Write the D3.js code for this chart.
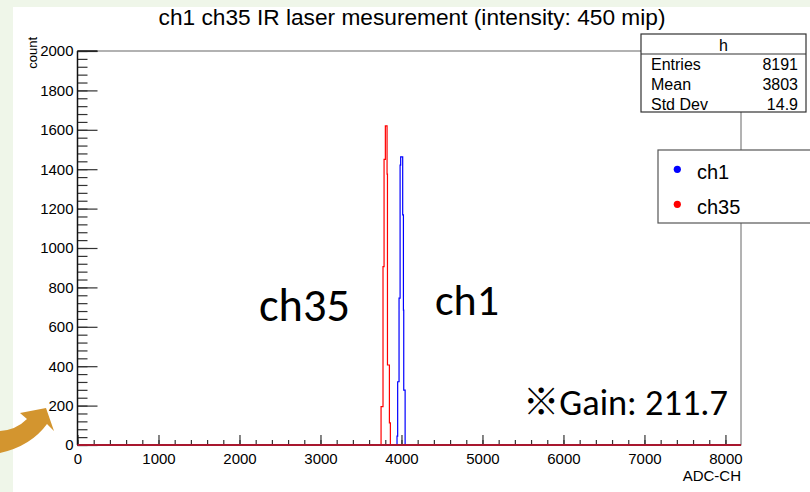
<!DOCTYPE html>
<html><head><meta charset="utf-8">
<script src="https://cdn.jsdelivr.net/npm/d3@7"></script>
<style>html,body{margin:0;padding:0;background:#fff;}svg{display:block;}</style>
</head><body>
<svg id="c" width="810" height="492"></svg>
<script>
// ---- data ----
const xDomain = [0, 8192];
const yDomain = [0, 2000];
const xTicks = [0,1000,2000,3000,4000,5000,6000,7000,8000];
const yTicks = [0,200,400,600,800,1000,1200,1400,1600,1800,2000];
// ch35 (red) histogram: bin edges and counts
const redEdges  = [3748, 3772, 3785, 3801, 3822, 3827, 3851, 3863];
const redCounts = [195, 905, 1450, 1620, 1375, 406, 112];
// ch1 (blue) histogram
const blueEdges  = [3945, 3953, 3970, 3983, 3990, 4015, 4024, 4028, 4045];
const blueCounts = [45, 321, 746, 1421, 1463, 1168, 685, 279];
const statsLabels = ["Entries","Mean","Std Dev"];
const statsValues = ["8191","3803","14.9"];
const legendNames = ["ch1","ch35"];
const legendColors = ["#0000ff","#ff0000"];

const svg = d3.select("#c");
// slide background
svg.append("rect").attr("width",810).attr("height",492).attr("fill","#eff6e9");
svg.append("rect").attr("x",13).attr("y",7).attr("width",797).attr("height",485).attr("fill","#fff");

const x = d3.scaleLinear().domain(xDomain).range([77.5, 741]);
const y = d3.scaleLinear().domain(yDomain).range([445, 51]);

// frame
svg.append("rect").attr("x",x(0)).attr("y",y(2000)).attr("width",x(8192)-x(0)).attr("height",y(0)-y(2000))
  .attr("fill","none").attr("stroke","#666").attr("stroke-width",1);

// histograms
function stepPath(edges, counts){
  const pts = [[x(xDomain[0]), y(0)], [x(edges[0]), y(0)]];
  counts.forEach((c,i)=>{ pts.push([x(edges[i]), y(c)]); pts.push([x(edges[i+1]), y(c)]); });
  pts.push([x(edges[edges.length-1]), y(0)]);
  pts.push([x(xDomain[1]), y(0)]);
  return d3.line()(pts);
}
svg.append("path").attr("d", stepPath(blueEdges, blueCounts)).attr("fill","none")
  .attr("stroke","#0000ff").attr("stroke-width",1.2);
svg.append("path").attr("d", stepPath(redEdges, redCounts)).attr("fill","none")
  .attr("stroke","#ff0000").attr("stroke-width",1.2);

// axes
const axFont = "Liberation Sans, Arial, sans-serif";
const yMinor = svg.append("g").attr("transform",`translate(${x(0)},0)`)
  .call(d3.axisLeft(y).tickValues(d3.range(0,2001,40)).tickSize(-10).tickFormat(""));
const yMajor = svg.append("g").attr("transform",`translate(${x(0)},0)`)
  .call(d3.axisLeft(y).tickValues(yTicks).tickSize(-20).tickPadding(4).tickFormat(d3.format("d")));
const xMinor = svg.append("g").attr("transform",`translate(0,${y(0)})`)
  .call(d3.axisBottom(x).tickValues(d3.range(0,8193,200)).tickSize(-5).tickFormat(""));
const xMajor = svg.append("g").attr("transform",`translate(0,${y(0)})`)
  .call(d3.axisBottom(x).tickValues(xTicks).tickSize(-10).tickPadding(8).tickFormat(d3.format("d")));
[yMinor,yMajor,xMinor,xMajor].forEach(g=>{
  g.select(".domain").remove();
  g.selectAll(".tick line").attr("stroke","#333").attr("stroke-width",1.2);
  g.selectAll("text").attr("font-family",axFont).attr("font-size",15).attr("fill","#000");
});
// axis lines
svg.append("line").attr("x1",x(0)).attr("x2",x(0)).attr("y1",y(2000)).attr("y2",y(0))
  .attr("stroke","#111").attr("stroke-width",1.5);
svg.append("line").attr("x1",x(0)).attr("x2",x(0)+20).attr("y1",y(2000)).attr("y2",y(2000))
  .attr("stroke","#222").attr("stroke-width",1.5);
// baseline (histograms at zero)
svg.append("line").attr("x1",x(0)).attr("x2",x(8192)).attr("y1",y(0)).attr("y2",y(0))
  .attr("stroke","#a8172e").attr("stroke-width",2);

// titles
svg.append("text").attr("x",412).attr("y",25).attr("text-anchor","middle")
  .attr("font-family",axFont).attr("font-size",22.7).text("ch1 ch35 IR laser mesurement (intensity: 450 mip)");
svg.append("text").attr("x",741).attr("y",481).attr("text-anchor","end")
  .attr("font-family",axFont).attr("font-size",15).text("ADC-CH");
svg.append("text").attr("transform","translate(37,37) rotate(-90)").attr("text-anchor","end")
  .attr("font-family",axFont).attr("font-size",13).text("count");

// stats box
const sb = {x:641, y:34, w:165, h:78};
svg.append("rect").attr("x",sb.x).attr("y",sb.y).attr("width",sb.w).attr("height",sb.h)
  .attr("fill","#fff").attr("stroke","#333").attr("stroke-width",1.2);
svg.append("line").attr("x1",sb.x).attr("x2",sb.x+sb.w).attr("y1",54).attr("y2",54).attr("stroke","#333").attr("stroke-width",1.2);
svg.append("text").attr("x",sb.x+sb.w/2).attr("y",50.5).attr("text-anchor","middle")
  .attr("font-family",axFont).attr("font-size",16).text("h");
statsLabels.forEach((l,i)=>{
  svg.append("text").attr("x",651).attr("y",70+i*20).attr("font-family",axFont).attr("font-size",16).text(l);
  svg.append("text").attr("x",798).attr("y",70+i*20).attr("text-anchor","end").attr("font-family",axFont).attr("font-size",16).text(statsValues[i]);
});

// legend
svg.append("rect").attr("x",658).attr("y",150).attr("width",160).attr("height",73)
  .attr("fill","#fff").attr("stroke","#555").attr("stroke-width",1.2);
legendNames.forEach((n,i)=>{
  svg.append("circle").attr("cx",677.3).attr("cy",169.3+i*35).attr("r",3.6).attr("fill",legendColors[i]);
  svg.append("text").attr("x",697).attr("y",179+i*35).attr("font-family",axFont).attr("font-size",20).text(n);
});

// annotations
const annFont = "Carlito, Lato, 'Noto Sans CJK JP', sans-serif";
function fitText(t, x0, yb, target){
  const el = svg.append("text").attr("x",x0).attr("y",yb).attr("font-family",annFont).attr("font-size",40).attr("fill","#000").text(t);
  const w = el.node().getComputedTextLength();
  el.attr("font-size", 40*target/w);
  return el;
}
fitText("ch35", 259, 320.5, 91);
fitText("ch1", 435, 315, 64);
fitText("※Gain: 211.7", 523, 415, 205);

// slide arrow decoration
svg.append("path").attr("d","M0,431 Q16,430 27,419 L20,413 L46,408 L54,431 L47,424 Q31,446 0,453 Z")
  .attr("fill","#d3952f");
</script>
</body></html>
